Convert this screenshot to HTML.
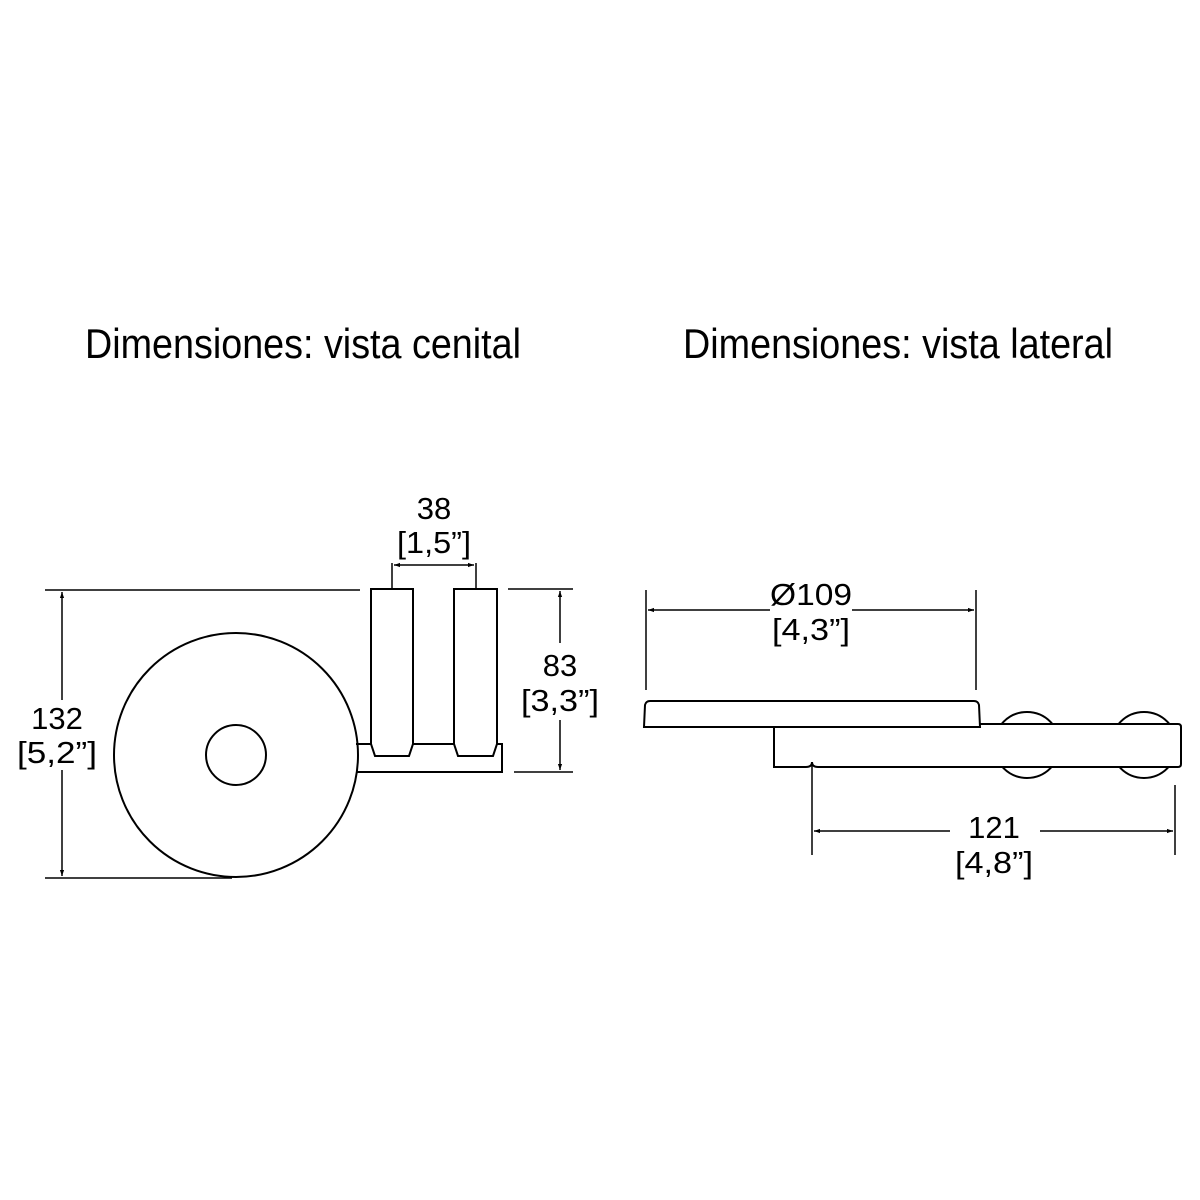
<!DOCTYPE html>
<html><head><style>body{margin:0;background:#fff}svg{display:block}</style></head><body>
<svg width="1200" height="1200" viewBox="0 0 1200 1200" xmlns="http://www.w3.org/2000/svg">
<defs><marker id="a" viewBox="0 0 10 10" refX="10" refY="5" markerWidth="10" markerHeight="6" orient="auto-start-reverse" markerUnits="userSpaceOnUse"><path d="M0,1.5 L10,5 L0,8.5z" fill="#000"/></marker></defs>
<g font-family="Liberation Sans, sans-serif" fill="#000">
<text x="85" y="358" font-size="42" textLength="436" lengthAdjust="spacingAndGlyphs">Dimensiones: vista cenital</text>
<text x="683" y="358" font-size="42" textLength="430" lengthAdjust="spacingAndGlyphs">Dimensiones: vista lateral</text>
<g font-size="31" text-anchor="middle">
<text x="434" y="519">38</text><text x="434" y="553" textLength="74" lengthAdjust="spacingAndGlyphs">[1,5”]</text>
<text x="560" y="676">83</text><text x="560" y="711" textLength="78" lengthAdjust="spacingAndGlyphs">[3,3”]</text>
<text x="57" y="729">132</text><text x="57" y="763" textLength="80" lengthAdjust="spacingAndGlyphs">[5,2”]</text>
<text x="811" y="605" textLength="82" lengthAdjust="spacingAndGlyphs">Ø109</text><text x="811" y="640" textLength="78" lengthAdjust="spacingAndGlyphs">[4,3”]</text>
<text x="994" y="838">121</text><text x="994" y="873" textLength="78" lengthAdjust="spacingAndGlyphs">[4,8”]</text>
</g></g>
<g fill="none" stroke="#000" stroke-width="2">
<circle cx="236" cy="755" r="122"/>
<circle cx="236" cy="755" r="30"/>
<path d="M356,744 H502 V772 H356"/>
<path fill="#fff" d="M371,744 V589 H413 V744 L409,756 H375 Z"/>
<path fill="#fff" d="M454,744 V589 H497 V744 L493,756 H458 Z"/>
<g stroke-width="1.5">
<path d="M45,590 H360 M45,878 H232"/>
<path d="M62,592 V700" marker-start="url(#a)"/><path d="M62,770 V876" marker-end="url(#a)"/>
<path d="M508,589 H573 M514,772 H573"/>
<path d="M560,591 V643" marker-start="url(#a)"/><path d="M560,720 V770" marker-end="url(#a)"/>
<path d="M392,589 V563 M476,589 V563"/>
<path d="M394,565 H474" marker-start="url(#a)" marker-end="url(#a)"/>
<path d="M646,590 V690 M976,590 V690"/>
<path d="M648,610 H770" marker-start="url(#a)"/><path d="M852,610 H974" marker-end="url(#a)"/>
<path d="M812,745 V855 M1175,785 V855"/>
<path d="M814,831 H950" marker-start="url(#a)"/><path d="M1040,831 H1173" marker-end="url(#a)"/>
</g>
<circle cx="1027" cy="745" r="33"/>
<circle cx="1144" cy="745" r="33"/>
<path fill="#fff" d="M774,724 H1178 Q1181,724 1181,727 V764 Q1181,767 1178,767 H818 Q812,767 812,762 Q812,767 806,767 H774 Z"/>
<path fill="#fff" d="M644,727 L645,705 Q646,701 650,701 H974 Q978,701 979,705 L980,727 Z"/>
</g>
</svg>
</body></html>
